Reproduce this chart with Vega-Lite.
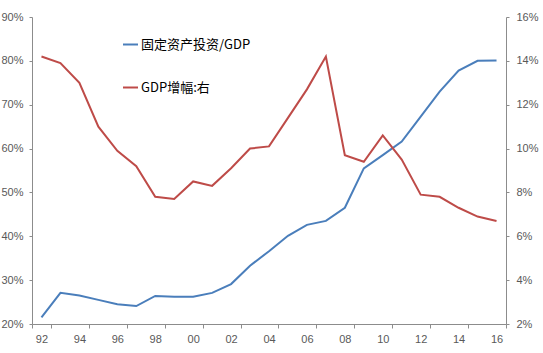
{
  "$schema": "https://vega.github.io/schema/vega-lite/v6.json",
  "width": 474,
  "height": 307,
  "autosize": {"type": "none"},
  "padding": {"left": 32, "top": 17, "right": 37, "bottom": 29},
  "background": "white",
  "config": {
    "view": {"stroke": null},
    "font": "Liberation Sans",
    "axis": {
      "labelColor": "#595959",
      "labelFontSize": 11,
      "labelFont": "Liberation Sans",
      "domainColor": "#8c8c8c",
      "tickColor": "#8c8c8c",
      "tickSize": 4,
      "grid": false,
      "title": null
    }
  },
  "data": {
    "values": [
      {"yr": "92", "inv": 21.5, "gdp": 14.2},
      {"yr": "93", "inv": 27.1, "gdp": 13.9},
      {"yr": "94", "inv": 26.5, "gdp": 13.0},
      {"yr": "95", "inv": 25.5, "gdp": 11.0},
      {"yr": "96", "inv": 24.5, "gdp": 9.9},
      {"yr": "97", "inv": 24.1, "gdp": 9.2},
      {"yr": "98", "inv": 26.4, "gdp": 7.8},
      {"yr": "99", "inv": 26.2, "gdp": 7.7},
      {"yr": "00", "inv": 26.2, "gdp": 8.5},
      {"yr": "01", "inv": 27.1, "gdp": 8.3},
      {"yr": "02", "inv": 29.1, "gdp": 9.1},
      {"yr": "03", "inv": 33.3, "gdp": 10.0},
      {"yr": "04", "inv": 36.6, "gdp": 10.1},
      {"yr": "05", "inv": 40.1, "gdp": 11.4},
      {"yr": "06", "inv": 42.6, "gdp": 12.7},
      {"yr": "07", "inv": 43.5, "gdp": 14.2},
      {"yr": "08", "inv": 46.5, "gdp": 9.7},
      {"yr": "09", "inv": 55.5, "gdp": 9.4},
      {"yr": "10", "inv": 58.5, "gdp": 10.6},
      {"yr": "11", "inv": 61.6, "gdp": 9.5},
      {"yr": "12", "inv": 67.3, "gdp": 7.9},
      {"yr": "13", "inv": 73.0, "gdp": 7.8},
      {"yr": "14", "inv": 77.8, "gdp": 7.3},
      {"yr": "15", "inv": 80.0, "gdp": 6.9},
      {"yr": "16", "inv": 80.1, "gdp": 6.7}
    ]
  },
  "encoding": {
    "x": {
      "field": "yr",
      "type": "ordinal",
      "sort": null,
      "scale": {"type": "band", "paddingInner": 0, "paddingOuter": 0},
      "axis": {
        "labelAngle": 0,
        "values": ["92", "94", "96", "98", "00", "02", "04", "06", "08", "10", "12", "14", "16"],
        "tickBand": "extent",
        "labelPadding": 5,
        "tickSize": 4
      }
    }
  },
  "layer": [
    {
      "mark": {"type": "line", "strokeWidth": 2},
      "encoding": {
        "y": {
          "field": "inv",
          "type": "quantitative",
          "scale": {"domain": [20, 90], "nice": false, "zero": false},
          "axis": {
            "orient": "left",
            "values": [20, 30, 40, 50, 60, 70, 80, 90],
            "labelExpr": "datum.value + '%'",
            "tickSize": 3,
            "labelPadding": 6
          }
        },
        "color": {
          "datum": "固定资产投资/GDP",
          "type": "nominal",
          "scale": {
            "domain": ["固定资产投资/GDP", "GDP增幅:右"],
            "range": ["#4a7ebb", "#be4b48"]
          },
          "legend": {
            "orient": "none",
            "legendX": 90,
            "legendY": 19,
            "title": null,
            "padding": 0,
            "symbolType": "stroke",
            "symbolSize": 225,
            "symbolStrokeWidth": 2,
            "labelFont": "Noto Sans CJK SC",
            "labelFontSize": 13,
            "labelColor": "#000000",
            "labelOffset": 2,
            "rowPadding": 27,
            "labelLimit": 300
          }
        }
      }
    },
    {
      "mark": {"type": "line", "strokeWidth": 2},
      "encoding": {
        "y": {
          "field": "gdp",
          "type": "quantitative",
          "scale": {"domain": [2, 16], "nice": false, "zero": false},
          "axis": {
            "orient": "right",
            "values": [2, 4, 6, 8, 10, 12, 14, 16],
            "labelExpr": "datum.value + '%'",
            "tickSize": 3,
            "labelPadding": 7
          }
        },
        "color": {"datum": "GDP增幅:右", "type": "nominal"}
      }
    }
  ],
  "resolve": {"scale": {"y": "independent"}}
}
